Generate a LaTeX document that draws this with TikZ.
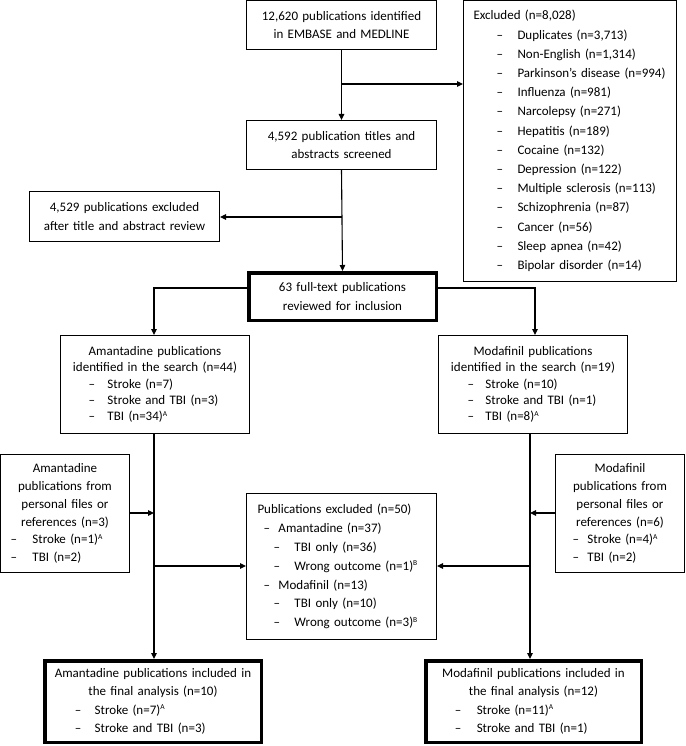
\documentclass[tikz,border=0pt]{standalone}
\usepackage{fontspec}
\setmainfont{Carlito}
\usetikzlibrary{arrows.meta}
\newcommand\sps[1]{\textsuperscript{\fontsize{7.5}{7.5}\selectfont #1}}
\newcommand\li[3]{\hspace*{#1pt}\makebox[#2pt][l]{–}#3\par}
\begin{document}
\begin{tikzpicture}[x=1pt,y=-1pt,
  box/.style={draw, line width=1pt, inner sep=0pt, align=left, rectangle},
  thick box/.style={box, line width=3.5pt},
  fs/.style={font=\fontsize{13}{#1}\selectfont},
  conn/.style={line width=1.1pt, -{Triangle[length=6pt,width=5.5pt]}},
  seg/.style={line width=1.1pt}]
\useasboundingbox (0,0) rectangle (685,746);

\node[box, fs=18, minimum width=190, minimum height=49, text width=190] (b1) at (341.5,25)
 {{\centering 12,620 publications identified\\in EMBASE and MEDLINE\par}};

\node[box, fs=19.2, minimum width=213, minimum height=281, text width=213] (exc) at (570,141)
 {\hspace*{10pt}Excluded (n=8,028)\par
  \li{33}{21}{Duplicates (n=3,713)}
  \li{33}{21}{Non-English (n=1,314)}
  \li{33}{21}{Parkinson’s disease (n=994)}
  \li{33}{21}{Influenza (n=981)}
  \li{33}{21}{Narcolepsy (n=271)}
  \li{33}{21}{Hepatitis (n=189)}
  \li{33}{21}{Cocaine (n=132)}
  \li{33}{21}{Depression (n=122)}
  \li{33}{21}{Multiple sclerosis (n=113)}
  \li{33}{21}{Schizophrenia (n=87)}
  \li{33}{21}{Cancer (n=56)}
  \li{33}{21}{Sleep apnea (n=42)}
  \li{33}{21}{Bipolar disorder (n=14)}};

\node[box, fs=17.3, minimum width=190, minimum height=49, text width=190] (b2) at (341.5,145)
 {{\centering 4,592 publication titles and\\abstracts screened\par}};

\node[box, fs=18.3, minimum width=190, minimum height=50, text width=190] (b4529) at (124.5,216.5)
 {{\centering 4,529 publications excluded\\after title and abstract review\par}};

\node[thick box, fs=18.3, minimum width=187.5, minimum height=47.5, text width=187.5] (b63) at (342.5,296.5)
 {{\centering 63 full-text publications\\reviewed for inclusion\par}};

\node[box, fs=16.4, minimum width=189, minimum height=98, text width=189] (aman) at (155,384.5)
 {{\centering Amantadine publications\\identified in the search (n=44)\par}
  \li{28}{19}{Stroke (n=7)}
  \li{28}{19}{Stroke and TBI (n=3)}
  \li{28}{19}{TBI (n=34)\sps{A}}};

\node[box, fs=16.4, minimum width=189, minimum height=98, text width=189] (moda) at (533,384.5)
 {{\centering Modafinil publications\\identified in the search (n=19)\par}
  \li{29}{18}{Stroke (n=10)}
  \li{29}{18}{Stroke and TBI (n=1)}
  \li{29}{18}{TBI (n=8)\sps{A}}};

\node[box, fs=17.9, minimum width=129, minimum height=118, text width=129] (apers) at (65,513.5)
 {{\centering Amantadine\\publications from\\personal files or\\references (n=3)\par}
  \li{10}{22}{Stroke (n=1)\sps{A}}
  \li{10}{22}{TBI (n=2)}};

\node[box, fs=17.9, minimum width=129, minimum height=118, text width=129] (mpers) at (620,513.5)
 {{\centering Modafinil\\publications from\\personal files or\\references (n=6)\par}
  \li{17}{15}{Stroke (n=4)\sps{A}}
  \li{17}{15}{TBI (n=2)}};

\node[box, fs=18.9, minimum width=190, minimum height=146, text width=190] (pexc) at (341.5,566.5)
 {\hspace*{11pt}Publications excluded (n=50)\par
  \li{17}{15}{Amantadine (n=37)}
  \li{27}{21}{TBI only (n=36)}
  \li{27}{21}{Wrong outcome (n=1)\sps{B}}
  \li{17}{15}{Modafinil (n=13)}
  \li{27}{21}{TBI only (n=10)}
  \li{27}{21}{Wrong outcome (n=3)\sps{B}}};

\node[thick box, fs=18.3, minimum width=216.5, minimum height=81.5, text width=216.5] (afin) at (153,701.5)
 {{\centering Amantadine publications included in\\the final analysis (n=10)\par}
  \li{30}{20}{Stroke (n=7)\sps{A}}
  \li{30}{20}{Stroke and TBI (n=3)}};

\node[thick box, fs=18.3, minimum width=215.5, minimum height=81.5, text width=215.5] (mfin) at (533.5,701.5)
 {{\centering Modafinil publications included in\\the final analysis (n=12)\par}
  \li{29}{22}{Stroke (n=11)\sps{A}}
  \li{29}{22}{Stroke and TBI (n=1)}};

% junction coordinates
\coordinate (j1) at (341.5,84);
\coordinate (j2) at (341.5,217);
\coordinate (aL) at (154,288);
\coordinate (mR) at (535,288);
\coordinate (aA) at (154,513);
\coordinate (aB) at (154,566);
\coordinate (mA) at (530,513);
\coordinate (mB) at (530,566);

% connectors
\draw[conn] (b1.south) -- (b2.north);
\draw[conn] (j1) -- (j1 -| exc.west);
\draw[conn] (b2.south) -- (b63.north);
\draw[conn] (j2) -- (j2 -| b4529.east);
\draw[conn] (b63.west |- aL) -- (aL) -- (aL |- aman.north);
\draw[conn] (b63.east |- mR) -- (mR) -- (mR |- moda.north);
\draw[conn] (aman.south -| aL) -- (aL |- afin.north);
\draw[conn] (apers.east |- aA) -- (aA);
\draw[conn] (aB) -- (aB -| pexc.west);
\draw[conn] (moda.south -| mA) -- (mA |- mfin.north);
\draw[conn] (mpers.west |- mA) -- (mA);
\draw[conn] (mB) -- (mB -| pexc.east);
\end{tikzpicture}
\end{document}
